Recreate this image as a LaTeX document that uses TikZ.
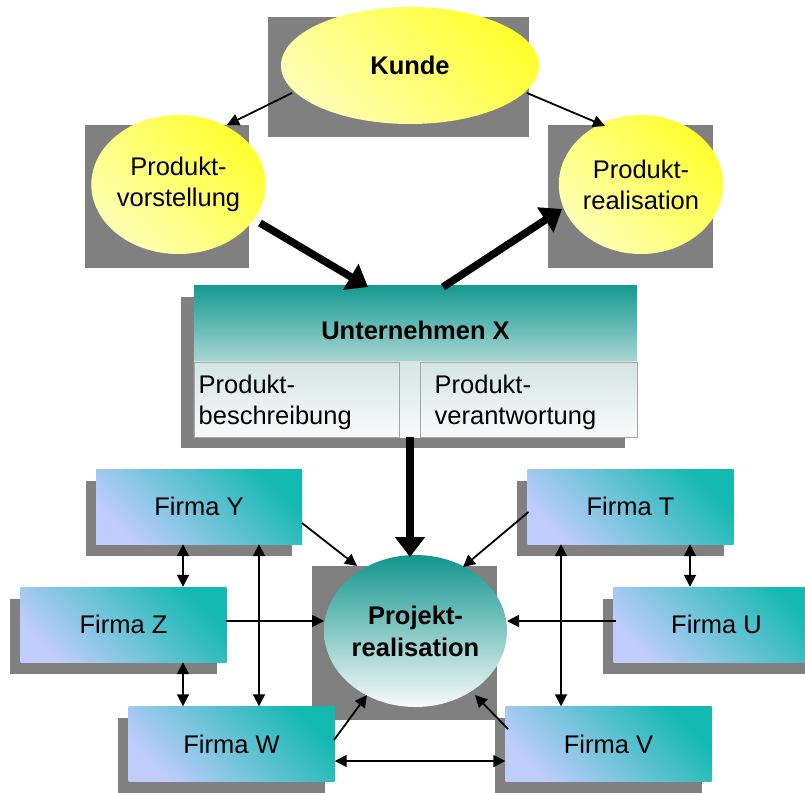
\documentclass[tikz,border=0pt]{standalone}
\usepackage{fontspec}
\setmainfont{Liberation Sans}
\usetikzlibrary{shapes.geometric,arrows.meta,calc,backgrounds}
\definecolor{sh}{HTML}{808080}
\definecolor{yelA}{HTML}{FFFF30}
\definecolor{yelB}{HTML}{FFFFB4}
\definecolor{tealA}{HTML}{12968E}
\definecolor{tealW}{HTML}{F8FAFA}
\definecolor{uxA}{HTML}{159A92}
\definecolor{uxB}{HTML}{AAD6D2}
\definecolor{subA}{HTML}{D3E5E3}
\definecolor{subB}{HTML}{FAFBFB}
\definecolor{firmA}{HTML}{14B9B1}
\definecolor{firmB}{HTML}{BFCCFC}
\begin{document}
\begin{tikzpicture}[x=1pt,y=-1pt,
  txt/.style={font=\fontsize{25.5}{31}\selectfont},
  btxt/.style={font=\fontsize{25.5}{32}\selectfont\bfseries},
  yel/.style={ellipse, inner sep=0pt, top color=yelA, bottom color=yelB, shading angle=-45, align=center, txt},
  firm/.style={rectangle, inner sep=0pt, minimum width=206pt, minimum height=75pt, top color=firmA, bottom color=firmB, shading angle=-45, txt},
  subbox/.style={draw=gray!70, line width=1pt, inner sep=0pt, minimum height=75pt},
  arrthin/.style={-{Triangle[length=12pt,width=12pt]}, line width=1.8pt},
  arrboth/.style={{Triangle[length=12pt,width=12pt]}-{Triangle[length=12pt,width=12pt]}, line width=1.8pt},
  arrthick/.style={-{Triangle[length=20pt,width=29pt]}, line width=7.5pt},
]
\useasboundingbox (0,0) rectangle (805,792);
% shadows of the big shapes
\fill[sh] (268,17) rectangle (529,137);
\fill[sh] (85,125) rectangle (249,268);
\fill[sh] (548,125) rectangle (713,268);
\fill[sh] (181,297) rectangle (625,448);
\fill[sh] (312,566) rectangle (497,720);

% top ellipses
\node[yel, btxt, minimum width=258pt, minimum height=117pt] (kunde) at (410,65.5) {Kunde};
\node[yel, minimum width=161pt, minimum height=139pt] (pv) at (178.5,184.5) {Produkt-\\vorstellung};
\node[yel, minimum width=162pt, minimum height=139pt] (pr) at (641,184.5) {Produkt-\\realisation};

% Unternehmen X
\node[inner sep=0pt, minimum width=443pt, minimum height=151pt] (ux) at (415.5,361.5) {};
\shade[top color=uxA, bottom color=uxB] (ux.north west) rectangle ($(ux.north east)+(0,76)$);
\shade[top color=subA, bottom color=subB] ($(ux.north west)+(0,76)$) rectangle (ux.south east);
\node[subbox, minimum width=205pt] (pb) at (296.5,399.5) {};
\node[subbox, minimum width=217pt] (pw) at (528.5,399.5) {};
\node[btxt] (uxt) at (415.5,330) {Unternehmen X};
\node[txt, anchor=west, align=left, inner sep=0pt] (pbt) at ($(pb.west)+(5,3)$) {Produkt-\\beschreibung};
\node[txt, anchor=west, align=left, inner sep=0pt] (pwt) at ($(pw.west)+(15,3)$) {Produkt-\\verantwortung};

% Projektrealisation
\node[ellipse, inner sep=0pt, minimum width=183pt, minimum height=152pt, top color=tealA, bottom color=tealW, align=center, btxt] (pj) at (415.5,631) {Projekt-\\realisation};

% Firmen
\node[firm] (fy) at (199,506.5) {Firma Y};
\node[firm] (fz) at (123.5,624.5) {Firma Z};
\node[firm] (fw) at (231.5,744) {Firma W};
\node[firm] (ft) at (630.5,506.5) {Firma T};
\node[firm] (fu) at (716.5,624.5) {Firma U};
\node[firm] (fv) at (608.5,744) {Firma V};
\begin{scope}[on background layer]
\foreach \n in {fy,fz,fw,ft,fu,fv}
  \fill[sh] ($(\n.south west)+(-10,12)$) rectangle ($(\n.north east)+(-10,12)$);
\end{scope}

% arrows top
\draw[arrthin] ($(kunde.center)+(-118,27.5)$) -- ($(pv.center)+(48.5,-59.5)$);
\draw[arrthin] ($(kunde.center)+(117,27.5)$) -- ($(pr.center)+(-36,-58.5)$);
\draw[arrthick] ($(pv.center)+(81.5,38.5)$) -- ($(ux.center)+(-47.5,-74.5)$);
\draw[arrthick] ($(ux.center)+(27.5,-74.5)$) -- ($(pr.center)+(-79,24.5)$);
\draw[arrthick] ($(ux.center)+(-5.5,75.5)$) -- ($(pj.center)+(-5.5,-74)$);

% arrows to Projektrealisation
\draw[arrthin] ($(fy.center)+(103,16.5)$) -- ($(pj.center)+(-58.5,-65)$);
\draw[arrthin] ($(ft.center)+(-102,5.5)$) -- ($(pj.center)+(47.5,-64)$);
\draw[arrthin] ($(fz.center)+(102.5,-3.5)$) -- ($(pj.center)+(-91.5,-10)$);
\draw[arrthin] ($(fu.center)+(-100.5,-3.5)$) -- ($(pj.center)+(91.5,-10)$);
\draw[arrthin] ($(fw.center)+(102.5,-4)$) -- ($(pj.center)+(-48.5,64)$);
\draw[arrthin] ($(fv.center)+(-100.5,-15)$) -- ($(pj.center)+(59.5,64)$);

% arrows between firms
\draw[arrboth] ($(fw.east)+(0,17)$) -- ($(fv.west)+(0,17)$);
\draw[arrboth] ($(fy.south)+(-16,0)$) -- ($(fz.north)+(59.5,0)$);
\draw[arrboth] ($(fz.south)+(59.5,0)$) -- ($(fw.north)+(-48.5,0)$);
\draw[arrboth] ($(fy.south)+(60,0)$) -- ($(fw.north)+(27.5,0)$);
\draw[arrboth] ($(ft.south)+(-69.5,0)$) -- ($(fv.north)+(-47.5,0)$);
\draw[arrboth] ($(ft.south)+(59.5,0)$) -- ($(fu.north)+(-26.5,0)$);
\end{tikzpicture}
\end{document}
